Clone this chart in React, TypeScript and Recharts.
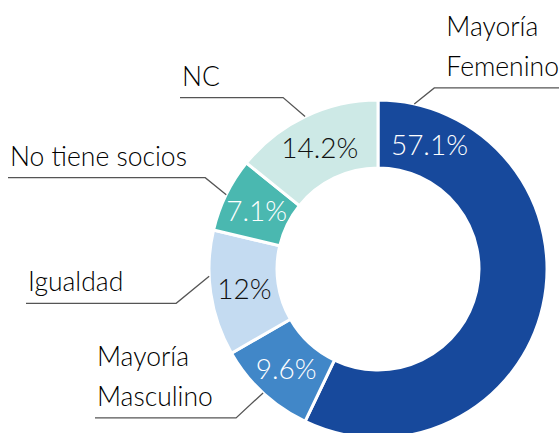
import React from 'react';
import { PieChart, Pie, Cell } from 'recharts';

const CATEGORIES = ['Mayoría Femenino', 'Mayoría Masculino', 'Igualdad', 'No tiene socios', 'NC'];
const VALUES = [57.1, 9.6, 12, 7.1, 14.2];
const LABEL_LINES = [['Mayoría', 'Femenino'], ['Mayoría', 'Masculino'], ['Igualdad'], ['No tiene socios'], ['NC']];
const COLORS = ['#17499C', '#4187C8', '#C4DBF1', '#4AB8B0', '#CDE9E6'];
const PCT_COLORS = ['#ffffff', '#ffffff', '#111111', '#ffffff', '#111111'];

const data = CATEGORIES.map((name, i) => ({ name, value: VALUES[i] }));

// label layout (styling, not data)
const LAYOUT: any[] = [
  { anchorAngle: 77.6, textAngle: 67.6, elbow: [20, -16], endX: 559, side: 'right' },
  { elbow: [-27, 25], endX: 95, side: 'left' },
  { anchorAngle: -177.5, elbow: [-33, 27], endX: 26, side: 'left' },
  { elbow: [-21, -17], endX: 8, side: 'left' },
  { elbow: [-22, -19], endX: 180, side: 'left' },
];

const RAD = Math.PI / 180;
const FONT = 'Lato, "Open Sans", sans-serif';

const renderLabel = (props: any) => {
  const { cx, cy, midAngle, innerRadius, outerRadius, index, value } = props;
  const lay = LAYOUT[index];
  const aAng = lay.anchorAngle ?? midAngle;
  const tAng = lay.textAngle ?? midAngle;
  const ax = cx + outerRadius * Math.cos(aAng * RAD);
  const ay = cy - outerRadius * Math.sin(aAng * RAD);
  const ex = ax + lay.elbow[0];
  const ey = ay + lay.elbow[1];
  const midR = (innerRadius + outerRadius) / 2;
  const tx = cx + midR * Math.cos(tAng * RAD);
  const ty = cy - midR * Math.sin(tAng * RAD);
  const lines: string[] = LABEL_LINES[index];
  const textX = lay.side === 'right' ? ex + 12 : lay.endX + 2;
  const n = lines.length;
  return (
    <g>
      <polyline points={`${ax},${ay} ${ex},${ey} ${lay.endX},${ey}`} fill="none" stroke="#555" strokeWidth={1.3} />
      {lines.map((t, k) => (
        <text key={k} x={textX} y={ey - 12 - (n - 1 - k) * 40} fill="#000" fontSize={26.5} fontFamily={FONT} fontWeight={300} textAnchor="start">
          {t}
        </text>
      ))}
      <text x={tx} y={ty} fill={PCT_COLORS[index]} fontSize={28} fontFamily={FONT} fontWeight={300} textAnchor="middle" dominantBaseline="central">
        {`${value}%`}
      </text>
    </g>
  );
};

export default function App() {
  return (
    <div style={{ position: 'absolute', left: 0, top: 0, width: 559, height: 433, background: '#fff' }}>
      <PieChart width={559} height={433} margin={{ top: 0, right: 0, bottom: 0, left: 0 }}>
        <Pie
          data={data}
          dataKey="value"
          nameKey="name"
          cx={378}
          cy={269}
          innerRadius={101}
          outerRadius={169}
          startAngle={90}
          endAngle={-270}
          stroke="#ffffff"
          strokeWidth={3}
          label={renderLabel}
          labelLine={false}
          isAnimationActive={false}
        >
          {data.map((d, i) => (
            <Cell key={d.name} fill={COLORS[i]} />
          ))}
        </Pie>
      </PieChart>
    </div>
  );
}
